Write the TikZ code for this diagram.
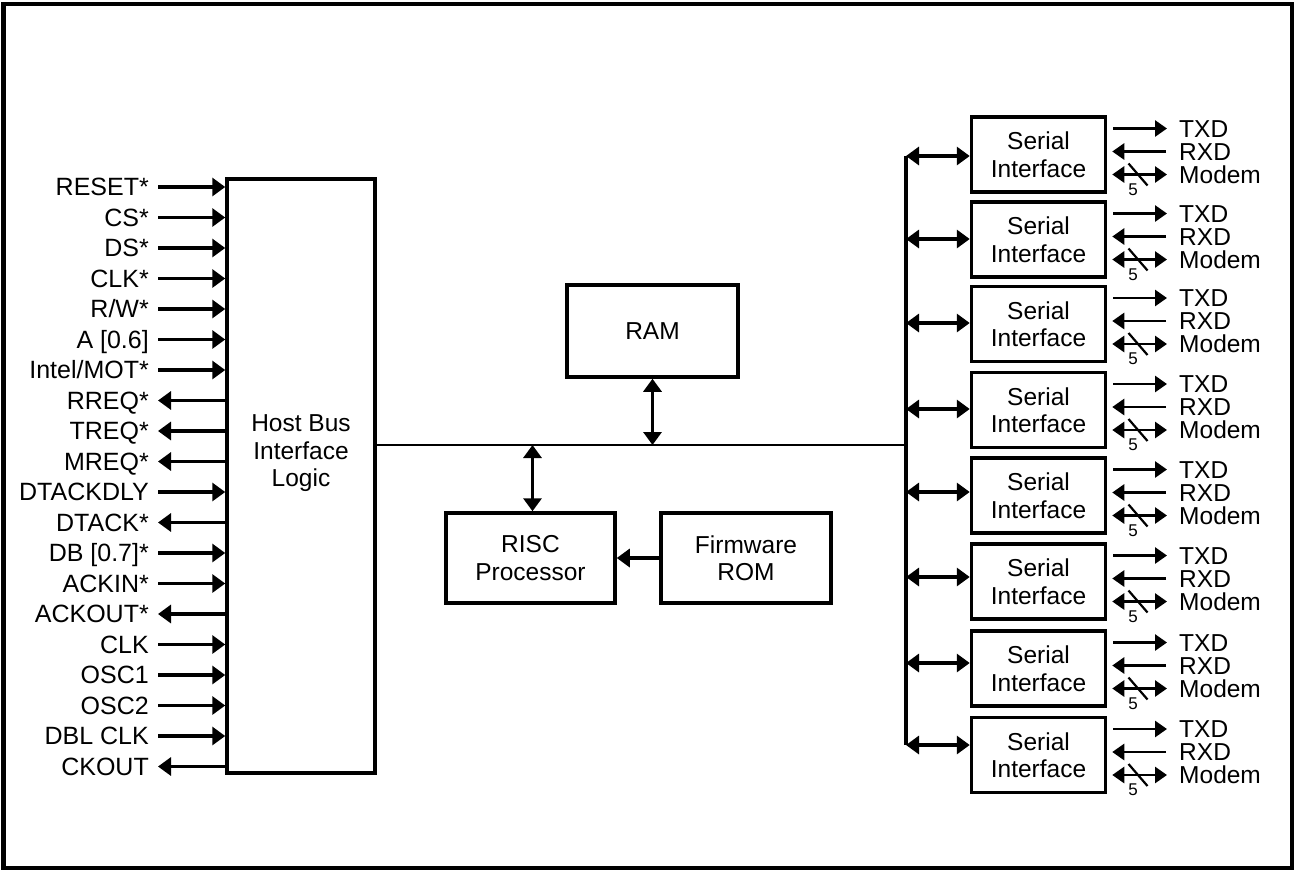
\documentclass[tikz,border=0pt]{standalone}
\usepackage{fontspec}
\setmainfont{Liberation Sans}
\usetikzlibrary{arrows.meta}
\tikzset{
  blk/.style={draw, line width=3.5pt, inner sep=0pt, align=center, font=\fontsize{24.5}{27.5}\selectfont},
  txt/.style={inner sep=0pt, align=center, font=\fontsize{24.5}{27.5}\selectfont},
  lbl/.style={inner sep=0pt, anchor=base east, font=\fontsize{25}{27.5}\selectfont},
  rlbl/.style={inner sep=0pt, anchor=base west, font=\fontsize{24.5}{27.5}\selectfont},
  sig/.style={line width=3.2pt},
  tipin/.style={-{Triangle[length=13pt,width=18pt]}},
  tipout/.style={{Triangle[length=13pt,width=18pt]}-},
  dbl/.style={line width=3.2pt, {Triangle[length=13pt,width=18pt]}-{Triangle[length=13pt,width=18pt]}},
  rsig/.style={line width=2.8pt},
  rtip/.style={-{Triangle[length=12pt,width=16pt]}},
  rdbl/.style={{Triangle[length=12pt,width=16pt]}-{Triangle[length=12pt,width=16pt]}},
}
\begin{document}
\begin{tikzpicture}[x=1pt,y=-1pt]
\useasboundingbox (0,0) rectangle (1297,871);
% outer frame
\draw[line width=4.5pt] (3.5,4) rectangle (1292,868);

% host bus interface
\node[blk, minimum width=148pt, minimum height=594pt] (hb) at (301,476) {};
\node[txt] (hbt) at (301,453.5) {Host Bus\\Interface\\Logic};

% left signals
\foreach \i/\t/\d in {0/{RESET*}/in,1/{CS*}/in,2/{DS*}/in,3/{CLK*}/in,4/{R/W*}/in,
  5/{A [0.6]}/in,6/{Intel/MOT*}/in,7/{RREQ*}/out,8/{TREQ*}/out,9/{MREQ*}/out,
  10/{DTACKDLY}/in,11/{DTACK*}/out,12/{DB [0.7]*}/in,13/{ACKIN*}/in,14/{ACKOUT*}/out,
  15/{CLK}/in,16/{OSC1}/in,17/{OSC2}/in,18/{DBL CLK}/in,19/{CKOUT}/out}{
  \pgfmathsetmacro{\yy}{187+30.5*\i}
  \node[lbl] (l\i) at (149,\yy+8.8) {\t};
  \coordinate (s\i) at (158,\yy);
  \draw[sig, tip\d] (s\i) -- (s\i -| hb.west);
}

% internal bus
\coordinate (busW) at (375,445);
\coordinate (busE) at (906,445);
\draw[line width=2.6pt] (busW) -- (busE);

\node[blk, minimum width=171pt, minimum height=92pt] (ram) at (652.5,331) {RAM};
\node[blk, minimum width=169pt, minimum height=90pt] (risc) at (530.5,558) {RISC\\Processor};
\node[blk, minimum width=170pt, minimum height=90pt] (rom) at (746,558) {Firmware\\ROM};

\draw[dbl] (ram.south) -- (ram.south |- busW);
\draw[dbl] ([xshift=2pt]risc.north) -- ([xshift=2pt]risc.north |- busW);
\draw[sig, tipin] (rom.west) -- (risc.east);

% vertical serial bus
\coordinate (vt) at (906,156);
\coordinate (vb) at (906,745);
\draw[line width=3.2pt] (vt) -- (vb);

% serial interfaces
\foreach \k/\c/\a in {1/154.5/156,2/239.5/239,3/324/323,4/410/409,5/495.5/492,6/581.5/577,7/668.5/663,8/755/745}{
  \node[blk, minimum width=134pt, minimum height=75pt] (si\k) at (1038.5,\c) {Serial\\Interface};
  \coordinate (sa\k) at (906,\a);
  \draw[dbl] (sa\k) -- (sa\k -| si\k.west);
  % TXD
  \coordinate (tx\k) at (1167,\c-26);
  \draw[rsig, rtip] (tx\k -| si\k.east) ++(6,0) -- (tx\k);
  \node[rlbl] (txl\k) at (1179,\c-26+8.6) {TXD};
  % RXD
  \coordinate (rx\k) at (1166,\c-3);
  \draw[rsig, rtip] (rx\k) -- ([xshift=5pt]rx\k -| si\k.east);
  \node[rlbl] (rxl\k) at (1179,\c-3+8.6) {RXD};
  % Modem
  \coordinate (md\k) at (1167,\c+20);
  \draw[rsig, rdbl] ([xshift=5pt]md\k -| si\k.east) -- (md\k);
  \node[rlbl] (mdl\k) at (1179,\c+20+8.6) {Modem};
  \coordinate (sl\k) at (1138,\c+20);
  \draw[line width=2.2pt] ([xshift=-9.5pt,yshift=11pt]sl\k) -- ([xshift=9.5pt,yshift=-11pt]sl\k);
  \node[inner sep=0pt, font=\fontsize{17}{17}\selectfont] (n\k) at (1133,\c+35) {5};
}
\end{tikzpicture}
\end{document}
